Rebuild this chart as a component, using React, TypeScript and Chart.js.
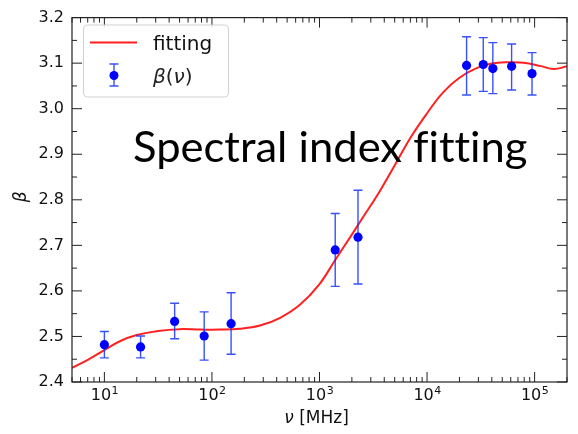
import { useEffect, useRef } from 'react';
import { Chart, registerables } from 'chart.js';

Chart.register(...registerables);

// Measured data points (frequency in MHz, spectral index β)
const obsFreq = [10, 21.7, 45, 84.7, 150.7, 1400, 2280, 23300, 33300, 40900, 61100, 94600];
const obsBeta = [2.482, 2.477, 2.533, 2.501, 2.528, 2.69, 2.718, 3.095, 3.097, 3.088, 3.093, 3.077];
const obsUpper = [2.511, 2.501, 2.573, 2.554, 2.596, 2.77, 2.821, 3.158, 3.156, 3.145, 3.142, 3.123];
const obsLower = [2.453, 2.453, 2.495, 2.448, 2.461, 2.61, 2.615, 3.03, 3.038, 3.033, 3.041, 3.03];

// Fitting curve
const fitFreq = [5, 7.08, 10, 14.1, 20, 31.6, 50.1, 79.4, 119, 182, 280, 431, 661, 1000, 1400, 1930, 2510, 3550, 5010, 7080, 10000, 14100, 20000, 28200, 39800, 56200, 79400, 112000, 151000, 200000];
const fitBeta = [2.431, 2.449, 2.47, 2.49, 2.503, 2.512, 2.516, 2.515, 2.515, 2.517, 2.524, 2.541, 2.57, 2.615, 2.668, 2.718, 2.76, 2.815, 2.876, 2.938, 2.99, 3.036, 3.068, 3.088, 3.099, 3.102, 3.101, 3.094, 3.087, 3.093];

const xMajorTicks = [10, 100, 1000, 10000, 100000];
const xTickExponents = ['1', '2', '3', '4', '5'];
const yTicks = [2.4, 2.5, 2.6, 2.7, 2.8, 2.9, 3.0, 3.1, 3.2];
const yMinorTicks = [2.45, 2.55, 2.65, 2.75, 2.85, 2.95, 3.05, 3.15];

const X_MIN = 5;
const X_MAX = 200000;
const Y_MIN = 2.4;
const Y_MAX = 3.2;

const TITLE_TEXT = 'Spectral index fitting';
const LEGEND_FIT = 'fitting';

const errorBarPlugin = {
  id: 'errorBars',
  afterDatasetDraw(chart: any, args: any) {
    if (args.index !== 0) return;
    const { ctx, scales } = chart;
    const xs = scales.x;
    const ys = scales.y;
    ctx.save();
    ctx.strokeStyle = 'rgba(20,50,255,0.85)';
    ctx.lineWidth = 1.4;
    for (let i = 0; i < obsFreq.length; i++) {
      const x = xs.getPixelForValue(obsFreq[i]);
      const yt = ys.getPixelForValue(obsUpper[i]);
      const yb = ys.getPixelForValue(obsLower[i]);
      ctx.beginPath();
      ctx.moveTo(x, yt);
      ctx.lineTo(x, yb);
      ctx.moveTo(x - 4.5, yt);
      ctx.lineTo(x + 4.5, yt);
      ctx.moveTo(x - 4.5, yb);
      ctx.lineTo(x + 4.5, yb);
      ctx.stroke();
    }
    ctx.restore();
  },
};

const framePlugin = {
  id: 'frame',
  afterDraw(chart: any) {
    const { ctx, chartArea: a, scales } = chart;
    const xs = scales.x;
    const ys = scales.y;
    ctx.save();
    ctx.strokeStyle = '#222';
    ctx.lineWidth = 1.2;
    ctx.strokeRect(a.left, a.top, a.right - a.left, a.bottom - a.top);
    ctx.lineWidth = 1;
    ctx.beginPath();
    const major = 10;
    const minor = 5;
    yTicks.forEach((v) => {
      const y = ys.getPixelForValue(v);
      ctx.moveTo(a.left, y); ctx.lineTo(a.left + major, y);
      ctx.moveTo(a.right, y); ctx.lineTo(a.right - major, y);
    });
    yMinorTicks.forEach((v) => {
      const y = ys.getPixelForValue(v);
      ctx.moveTo(a.left, y); ctx.lineTo(a.left + minor, y);
      ctx.moveTo(a.right, y); ctx.lineTo(a.right - minor, y);
    });
    for (let e = 0; e <= 5; e++) {
      for (let m = 1; m <= 9; m++) {
        const v = m * Math.pow(10, e);
        if (v < X_MIN || v > X_MAX) continue;
        const x = xs.getPixelForValue(v);
        const len = m === 1 ? major : minor;
        ctx.moveTo(x, a.bottom); ctx.lineTo(x, a.bottom - len);
        ctx.moveTo(x, a.top); ctx.lineTo(x, a.top + len);
      }
    }
    ctx.stroke();

    // x tick labels: 10 with raised exponent
    ctx.fillStyle = '#111';
    ctx.textBaseline = 'alphabetic';
    ctx.textAlign = 'left';
    xMajorTicks.forEach((v, i) => {
      const x = xs.getPixelForValue(v);
      ctx.font = '16px "DejaVu Sans"';
      const wb = ctx.measureText('10').width;
      ctx.font = '11px "DejaVu Sans"';
      const we = ctx.measureText(xTickExponents[i]).width;
      const start = x - (wb + we) / 2;
      ctx.font = '16px "DejaVu Sans"';
      ctx.fillText('10', start, 400);
      ctx.font = '11px "DejaVu Sans"';
      ctx.fillText(xTickExponents[i], start + wb + 0.5, 393.5);
    });

    // axis titles
    ctx.textBaseline = 'middle';
    ctx.save();
    ctx.translate(22, (a.top + a.bottom) / 2 - 3);
    ctx.rotate(-Math.PI / 2);
    ctx.font = 'italic 17px "DejaVu Sans"';
    ctx.textAlign = 'center';
    ctx.fillText('β', 0, 0);
    ctx.restore();
    const parts: [string, string][] = [
      ['ν', 'italic 17px "DejaVu Sans"'],
      [' [MHz]', '17px "DejaVu Sans"'],
    ];
    let total = 0;
    parts.forEach(([t, f]) => { ctx.font = f; total += ctx.measureText(t).width; });
    let cx = (a.left + a.right) / 2 - total / 2 - 3;
    ctx.textAlign = 'left';
    parts.forEach(([t, f]) => {
      ctx.font = f;
      ctx.fillText(t, cx, 419);
      cx += ctx.measureText(t).width;
    });

    // legend
    const lx = 83.5, ly = 25, lw = 145, lh = 72;
    ctx.beginPath();
    ctx.roundRect(lx, ly, lw, lh, 4);
    ctx.fillStyle = 'rgba(255,255,255,0.85)';
    ctx.fill();
    ctx.strokeStyle = '#d0d0d0';
    ctx.lineWidth = 1;
    ctx.stroke();
    ctx.strokeStyle = '#ff2020';
    ctx.lineWidth = 2;
    ctx.beginPath();
    ctx.moveTo(90, 42.5);
    ctx.lineTo(137, 42.5);
    ctx.stroke();
    ctx.fillStyle = '#111';
    ctx.font = '20px "DejaVu Sans"';
    ctx.textBaseline = 'alphabetic';
    ctx.fillText(LEGEND_FIT, 153, 50);
    ctx.strokeStyle = 'rgba(20,50,255,0.85)';
    ctx.lineWidth = 1.4;
    ctx.beginPath();
    ctx.moveTo(114, 64); ctx.lineTo(114, 86);
    ctx.moveTo(109.5, 64); ctx.lineTo(118.5, 64);
    ctx.moveTo(109.5, 86); ctx.lineTo(118.5, 86);
    ctx.stroke();
    ctx.fillStyle = '#0000ff';
    ctx.beginPath();
    ctx.arc(114, 75.5, 4.5, 0, Math.PI * 2);
    ctx.fill();
    const lparts: [string, string][] = [
      ['β', 'italic 20px "DejaVu Sans"'],
      ['(', '20px "DejaVu Sans"'],
      ['ν', 'italic 20px "DejaVu Sans"'],
      [')', '20px "DejaVu Sans"'],
    ];
    ctx.fillStyle = '#222';
    let px = 153;
    lparts.forEach(([t, f]) => {
      ctx.font = f;
      ctx.fillText(t, px, 83);
      px += ctx.measureText(t).width;
    });

    ctx.restore();
  },
};

export default function App() {
  const ref = useRef<HTMLCanvasElement | null>(null);
  const titleRef = useRef<HTMLSpanElement | null>(null);
  useEffect(() => {
    document.body.style.margin = '0';
    if (titleRef.current) {
      const w = titleRef.current.offsetWidth;
      if (w > 0) titleRef.current.style.transform = `scaleX(${395 / w})`;
    }
    if (!ref.current) return;
    const chart = new Chart(ref.current, {
      type: 'scatter',
      data: {
        datasets: [
          {
            label: LEGEND_FIT,
            data: fitFreq.map((f, i) => ({ x: f, y: fitBeta[i] })),
            showLine: true,
            borderColor: '#ff2020',
            borderWidth: 2,
            pointRadius: 0,
            tension: 0.4,
            order: 2,
          },
          {
            label: 'β(ν)',
            data: obsFreq.map((f, i) => ({ x: f, y: obsBeta[i] })),
            showLine: false,
            pointRadius: 4.6,
            pointBackgroundColor: '#0000ff',
            pointBorderWidth: 0,
            order: 1,
          },
        ],
      },
      options: {
        responsive: false,
        animation: false,
        layout: { padding: { top: 14, right: 11, left: 0, bottom: 0 } },
        plugins: { legend: { display: false }, tooltip: { enabled: false } },
        scales: {
          x: {
            type: 'logarithmic',
            min: X_MIN,
            max: X_MAX,
            afterBuildTicks: (s: any) => {
              s.ticks = xMajorTicks.map((v) => ({ value: v }));
            },
            afterFit: (s: any) => {
              s.height = 52;
            },
            grid: { display: false, drawTicks: false },
            border: { display: false },
            ticks: { display: false },
          },
          y: {
            type: 'linear',
            min: Y_MIN,
            max: Y_MAX,
            afterBuildTicks: (s: any) => {
              s.ticks = yTicks.map((v) => ({ value: v }));
            },
            afterFit: (s: any) => {
              s.width = 72;
            },
            grid: { display: false, drawTicks: false },
            border: { display: false },
            ticks: {
              padding: 8,
              color: '#111',
              font: { family: 'DejaVu Sans', size: 16 },
              callback: (v: any) => Number(v).toFixed(1),
            },
          },
        },
      },
      plugins: [errorBarPlugin, framePlugin],
    });
    return () => chart.destroy();
  }, []);
  return (
    <div style={{ width: 578, height: 434, position: 'relative' }}>
      <canvas ref={ref} width={578} height={434} style={{ display: 'block' }} />
      <span
        ref={titleRef}
        style={{
          position: 'absolute',
          left: 132.5,
          top: 125.2,
          font: '42px Lato',
          lineHeight: '42px',
          whiteSpace: 'nowrap',
          fontVariantLigatures: 'none',
          transformOrigin: 'left top',
          color: '#000',
          pointerEvents: 'none',
        }}
      >
        {TITLE_TEXT}
      </span>
    </div>
  );
}
